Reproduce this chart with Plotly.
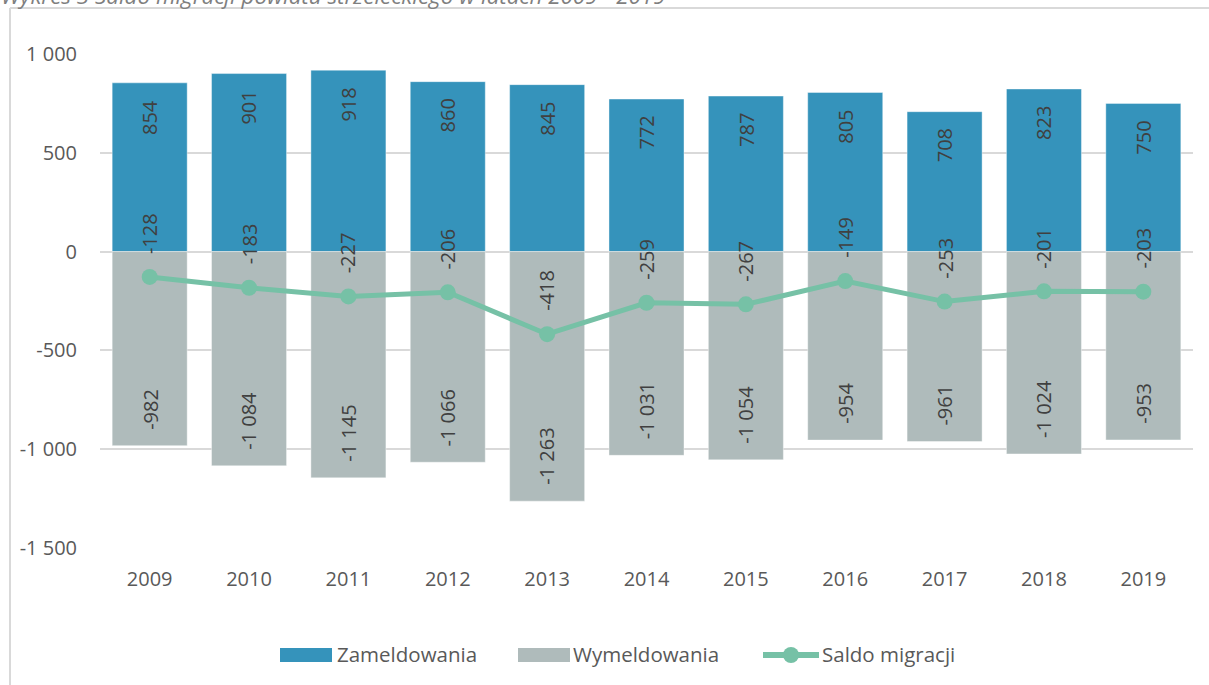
import plotly.graph_objects as go

years = ["2009", "2010", "2011", "2012", "2013", "2014", "2015", "2016", "2017", "2018", "2019"]
zameldowania = [854, 901, 918, 860, 845, 772, 787, 805, 708, 823, 750]
wymeldowania = [-982, -1084, -1145, -1066, -1263, -1031, -1054, -954, -961, -1024, -953]
saldo = [-128, -183, -227, -206, -418, -259, -267, -149, -253, -201, -203]
y_tickvals = [1000, 500, 0, -500, -1000, -1500]
y_ticktext = ["1 000", "500", "0", "-500", "-1 000", "-1 500"]
series_names = ["Zameldowania", "Wymeldowania", "Saldo migracji"]
title_text = "Wykres 3 Saldo migracji powiatu strzeleckiego w latach 2009 - 2019"

BLUE = "#3593BB"
GREY = "#AFBBBB"
GREEN = "#76C1A6"
TXT = "#595959"
LBL = "#404040"
FONT = "Open Sans"

W, H = 1209, 685
L, R, T, B = 100, 16, 54, 137
PW, PH = W - L - R, H - T - B


def px(x):
    return (x - L) / PW


def py(y):
    return (H - B - y) / PH


def fmt(v):
    return f"{v:,}".replace(",", " ")


fig = go.Figure()
fig.add_trace(go.Bar(x=years, y=zameldowania, name=series_names[0],
                     marker=dict(color=BLUE, line=dict(color="rgba(255,255,255,0.5)", width=0.8)),
                     showlegend=False))
fig.add_trace(go.Bar(x=years, y=wymeldowania, name=series_names[1],
                     marker=dict(color=GREY, line=dict(color="rgba(255,255,255,0.5)", width=0.8)),
                     showlegend=False))
fig.add_trace(go.Scatter(x=years, y=saldo, name=series_names[2], mode="lines+markers",
                         line=dict(color=GREEN, width=5),
                         marker=dict(color=GREEN, size=16), showlegend=False))

annotations = []
for i, v in enumerate(zameldowania):
    annotations.append(dict(x=i, y=v, xref="x", yref="y", text=fmt(v), textangle=-90,
                            showarrow=False, yanchor="top", xanchor="center", yshift=-15,
                            font=dict(family=FONT, size=20, color=LBL)))
for i, v in enumerate(wymeldowania):
    annotations.append(dict(x=i, y=v, xref="x", yref="y", text=fmt(v), textangle=-90,
                            showarrow=False, yanchor="bottom", xanchor="center", yshift=14,
                            font=dict(family=FONT, size=20, color=LBL)))
for i, v in enumerate(saldo):
    annotations.append(dict(x=i, y=v, xref="x", yref="y", text=fmt(v), textangle=-90,
                            showarrow=False, yanchor="bottom", xanchor="center", yshift=21,
                            font=dict(family=FONT, size=20, color=LBL)))

# title (partly cut at the top of the picture)
annotations.append(dict(x=px(-1), y=py(-5), xref="paper", yref="paper", text="<i>" + title_text + "</i>",
                        showarrow=False, xanchor="left", yanchor="middle",
                        font=dict(family=FONT, size=22.4, color="#7F7F7F")))

shapes = []
# outer frame (top and left edges)
shapes.append(dict(type="line", xref="paper", yref="paper", x0=px(10), x1=px(W + 5), y0=py(8), y1=py(8),
                   line=dict(color="#D9D9D9", width=2)))
shapes.append(dict(type="line", xref="paper", yref="paper", x0=px(10), x1=px(10), y0=py(8), y1=py(H + 5),
                   line=dict(color="#D9D9D9", width=2)))

# manual legend
ly = 655
shapes.append(dict(type="rect", xref="paper", yref="paper", x0=px(280), x1=px(332), y0=py(648), y1=py(662),
                   fillcolor=BLUE, line=dict(width=0)))
shapes.append(dict(type="rect", xref="paper", yref="paper", x0=px(518), x1=px(570), y0=py(648), y1=py(662),
                   fillcolor=GREY, line=dict(width=0)))
shapes.append(dict(type="line", xref="paper", yref="paper", x0=px(763), x1=px(819), y0=py(ly), y1=py(ly),
                   line=dict(color=GREEN, width=6)))
shapes.append(dict(type="circle", xref="paper", yref="paper", x0=px(783), x1=px(799), y0=py(ly - 8), y1=py(ly + 8),
                   fillcolor=GREEN, line=dict(width=0)))
for xpos, name in zip([335, 571, 820], series_names):
    annotations.append(dict(x=px(xpos), y=py(ly - 1), xref="paper", yref="paper", text=name, showarrow=False,
                            xanchor="left", yanchor="middle",
                            font=dict(family=FONT, size=20.5, color=TXT)))

fig.update_layout(
    width=W, height=H,
    margin=dict(l=L, r=R, t=T, b=B, pad=0),
    paper_bgcolor="white", plot_bgcolor="white",
    barmode="relative", bargap=0.245,
    font=dict(family=FONT, color=TXT, size=20),
    annotations=annotations, shapes=shapes,
    showlegend=False,
)
fig.update_xaxes(type="category", range=[-0.5, len(years) - 0.5], showgrid=False, showline=False,
                 zeroline=False, ticks="", ticklabelstandoff=17,
                 tickfont=dict(family=FONT, size=20, color=TXT))
fig.update_yaxes(range=[-1500, 1000], tickvals=y_tickvals, ticktext=y_ticktext,
                 showgrid=True, gridcolor="#D9D9D9", gridwidth=1.5,
                 zeroline=True, zerolinecolor="#D9D9D9", zerolinewidth=1.5,
                 showline=False, ticks="", ticklabelstandoff=22,
                 tickfont=dict(family=FONT, size=20, color=TXT))

fig.write_html("out.html", post_script="document.body.style.margin='0';",
               config={"displayModeBar": False})
